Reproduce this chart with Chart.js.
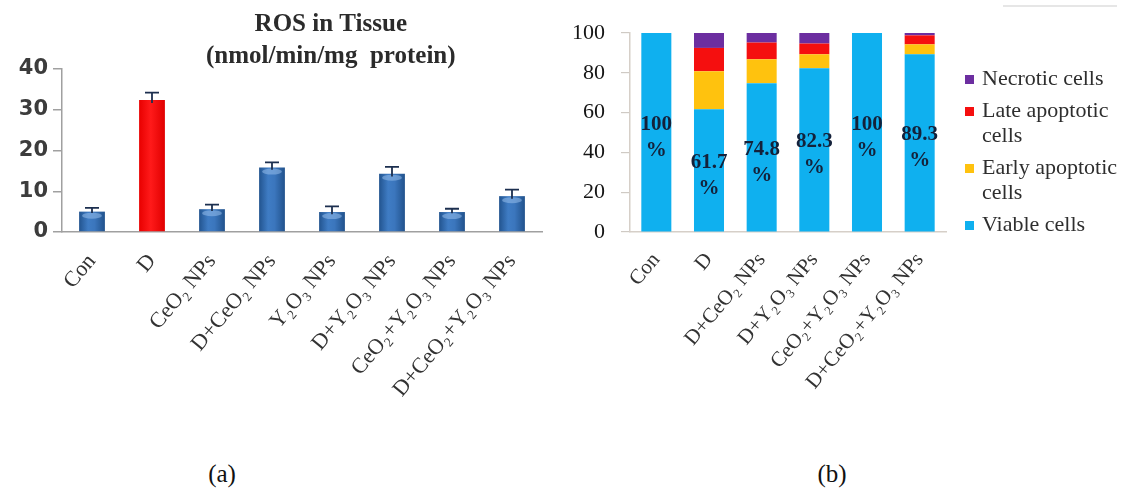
<!DOCTYPE html>
<html>
<head>
<meta charset="utf-8">
<script src="https://cdn.jsdelivr.net/npm/chart.js@4.4.1/dist/chart.umd.min.js"></script>
<style>
  html, body { margin: 0; padding: 0; background: #fff; }
  body { width: 1133px; height: 500px; position: relative; overflow: hidden;
         font-family: 'Liberation Serif', 'Times New Roman', serif; }
  #ros { position: absolute; left: 0; top: 0; }
  #cells { position: absolute; left: 560px; top: 0; }
  .cap { position: absolute; top: 460px; width: 60px; text-align: center; font-size: 25px; color: #111; }
  .rule { position: absolute; left: 1003px; top: 5px; width: 114px; height: 2px; background: #e6e6e6; }
</style>
</head>
<body>
<canvas id="ros" width="560" height="440"></canvas>
<canvas id="cells" width="573" height="440"></canvas>
<div class="cap" style="left:192px">(a)</div>
<div class="cap" style="left:802px">(b)</div>
<div class="rule"></div>
<script>
// ---- Panel (a): ROS in tissue ----
const rosGroups = ['Con', 'D', 'CeO₂ NPs', 'D+CeO₂ NPs', 'Y₂O₃ NPs', 'D+Y₂O₃ NPs', 'CeO₂+Y₂O₃ NPs', 'D+CeO₂+Y₂O₃ NPs'];
const rosMean = [5.0, 32.4, 5.6, 15.8, 4.9, 14.3, 4.9, 8.8];
const rosErr = [0.9, 1.8, 1.1, 1.3, 1.4, 1.7, 0.8, 1.6];
const rosTicks = [0, 10, 20, 30, 40];
const rosTitle = ['ROS in Tissue', '(nmol/min/mg  protein)'];

// ---- Panel (b): cell populations (%) ----
const cellGroups = ['Con', 'D', 'D+CeO₂ NPs', 'D+Y₂O₃ NPs', 'CeO₂+Y₂O₃ NPs', 'D+CeO₂+Y₂O₃ NPs'];
const cellSeries = ['Viable cells', 'Early apoptotic cells', 'Late apoptotic cells', 'Necrotic cells'];
const viable = [100, 61.7, 74.8, 82.3, 100, 89.3];
const earlyApoptotic = [0, 19.1, 12.0, 7.0, 0, 5.0];
const lateApoptotic = [0, 11.7, 8.4, 5.4, 0, 4.5];
const necrotic = [0, 7.5, 4.8, 5.3, 0, 1.2];
const cellTicks = [0, 20, 40, 60, 80, 100];

const SERIF = "'Liberation Serif', 'Times New Roman', serif";
const AXIS_BOTTOM = 232;   // pixel row of the value axis baseline in both panels

// Cylinder-like shading for the ROS bars, computed once bar geometry is known
const barShade = {
  id: 'barShade',
  beforeDatasetsDraw(chart) {
    const c = chart.ctx;
    chart.getDatasetMeta(0).data.forEach((bar, i) => {
      const l = bar.x - bar.width / 2, r = bar.x + bar.width / 2;
      const g = c.createLinearGradient(l, 0, r, 0);
      if (rosGroups[i] === 'D') {
        g.addColorStop(0, '#e80000'); g.addColorStop(0.45, '#ff1a1a'); g.addColorStop(1, '#e00000');
      } else {
        g.addColorStop(0, '#22548f'); g.addColorStop(0.35, '#3f7cc4');
        g.addColorStop(0.6, '#3b76bd'); g.addColorStop(1, '#21528c');
      }
      bar.options.backgroundColor = g;
    });
  },
  afterDatasetsDraw(chart) {
    const c = chart.ctx;
    const ys = chart.scales.y;
    chart.getDatasetMeta(0).data.forEach((bar, i) => {
      if (rosGroups[i] === 'D') return;
      // lighter cap on top of each blue bar
      c.save();
      c.fillStyle = 'rgba(150,190,235,0.55)';
      c.beginPath();
      c.ellipse(bar.x, bar.y + 4, bar.width / 2 - 3, 3, 0, 0, Math.PI * 2);
      c.fill();
      c.restore();
    });
    // error bars
    c.save();
    c.strokeStyle = '#1c2f4f';
    c.lineWidth = 1.8;
    chart.getDatasetMeta(0).data.forEach((bar, i) => {
      const top = ys.getPixelForValue(rosMean[i] + rosErr[i]);
      const low = ys.getPixelForValue(rosMean[i] - rosErr[i] * 0.4);
      c.beginPath();
      c.moveTo(bar.x, low); c.lineTo(bar.x, top);
      c.moveTo(bar.x - 7, top); c.lineTo(bar.x + 7, top);
      c.stroke();
    });
    c.restore();
  },
  afterDraw(chart) {
    const c = chart.ctx;
    const a = chart.chartArea;
    c.save();
    c.fillStyle = '#2b2b2b';
    c.font = 'bold 25px ' + SERIF;
    c.textAlign = 'center';
    c.textBaseline = 'middle';
    const cx = a.left + (a.right - a.left) * 0.56;
    c.fillText(rosTitle[0], cx, 25);
    c.fillText(rosTitle[1], cx, 57);
    c.restore();
  }
};

new Chart(document.getElementById('ros'), {
  type: 'bar',
  data: {
    labels: rosGroups,
    datasets: [{
      data: rosMean,
      backgroundColor: ctx => (rosGroups[ctx.dataIndex] === 'D' ? '#ff0000' : '#3a76bf'),
      borderWidth: 0,
      barPercentage: 0.43,
      categoryPercentage: 1
    }]
  },
  options: {
    responsive: false,
    animation: false,
    layout: { padding: { top: 69, right: 18, left: 0, bottom: 0 } },
    plugins: { legend: { display: false }, tooltip: { enabled: false } },
    scales: {
      x: {
        offset: true,
        grid: { display: false },
        border: { display: true, color: '#a0a0a0', width: 1.5 },
        ticks: { minRotation: 50, maxRotation: 50, autoSkip: false, padding: 9,
                 color: '#333', font: { family: SERIF, size: 22 } },
        afterFit(s) { s.height = 440 - AXIS_BOTTOM; }
      },
      y: {
        min: 0, max: 40,
        afterBuildTicks(s) { s.ticks = rosTicks.map(v => ({ value: v })); },
        grid: { drawOnChartArea: false, drawTicks: true, tickLength: 9, color: '#a0a0a0', lineWidth: 1.5 },
        border: { display: true, color: '#a0a0a0', width: 1.5 },
        ticks: { padding: 5, color: '#3c3c3c', font: { family: 'DejaVu Sans', size: 21, weight: 'bold' } },
        afterFit(s) { s.width = 62; }
      }
    }
  },
  plugins: [barShade]
});

// Percent labels on the viable segment and a side legend with wrapped text
const cellDecor = {
  id: 'cellDecor',
  afterDatasetsDraw(chart) {
    const c = chart.ctx;
    c.save();
    c.fillStyle = '#14213a';
    c.font = 'bold 21px ' + SERIF;
    c.textAlign = 'center';
    c.textBaseline = 'middle';
    chart.getDatasetMeta(0).data.forEach((bar, i) => {
      const cy = (bar.y + bar.base) / 2 + 5;
      c.fillText(String(viable[i]), bar.x, cy - 13);
      c.fillText('%', bar.x, cy + 13);
    });
    c.restore();
  },
  afterDraw(chart) {
    const c = chart.ctx;
    const a = chart.chartArea;
    c.save();
    c.font = '22px ' + SERIF;
    c.textBaseline = 'middle';
    c.textAlign = 'left';
    const mx = a.right + 19, tx = a.right + 36;
    let y = 79;
    const items = chart.data.datasets.slice().reverse();
    items.forEach(ds => {
      // wrap words to fit the legend column
      const words = ds.label.split(' ');
      const lines = [];
      let cur = '';
      words.forEach(w => {
        const t = cur ? cur + ' ' + w : w;
        if (c.measureText(t).width > 140 && cur) { lines.push(cur); cur = w; } else { cur = t; }
      });
      lines.push(cur);
      c.fillStyle = ds.backgroundColor;
      c.fillRect(mx, y - 4, 9, 9);
      c.fillStyle = '#2e2e2e';
      lines.forEach((ln, k) => c.fillText(ln, tx, y + k * 25));
      y += (lines.length - 1) * 25 + 32;
    });
    c.restore();
  }
};

const cellColors = ['#0fb0ef', '#ffc20e', '#f50f0f', '#6c2ea0'];
const cellValues = [viable, earlyApoptotic, lateApoptotic, necrotic];

new Chart(document.getElementById('cells'), {
  type: 'bar',
  data: {
    labels: cellGroups,
    datasets: cellSeries.map((name, k) => ({
      label: name,
      data: cellValues[k],
      backgroundColor: cellColors[k],
      borderWidth: 0,
      barPercentage: 0.57,
      categoryPercentage: 1
    }))
  },
  options: {
    responsive: false,
    animation: false,
    layout: { padding: { top: 33, right: 187, left: 0, bottom: 0 } },
    plugins: { legend: { display: false }, tooltip: { enabled: false } },
    scales: {
      x: {
        stacked: true,
        offset: true,
        grid: { display: false },
        border: { display: true, color: '#d6cfc8', width: 1.5 },
        ticks: { minRotation: 50, maxRotation: 50, autoSkip: false, padding: 8,
                 color: '#333', font: { family: SERIF, size: 21 } },
        afterFit(s) { s.height = 440 - AXIS_BOTTOM; }
      },
      y: {
        stacked: true,
        min: 0, max: 100,
        afterBuildTicks(s) { s.ticks = cellTicks.map(v => ({ value: v })); },
        grid: { drawOnChartArea: false, drawTicks: true, tickLength: 9, color: '#cfcac4', lineWidth: 1.2 },
        border: { display: true, color: '#d6cfc8', width: 1.5 },
        ticks: { padding: 16, color: '#151515', font: { family: SERIF, size: 22 } },
        afterFit(s) { s.width = 70; }
      }
    }
  },
  plugins: [cellDecor]
});
</script>
</body>
</html>
